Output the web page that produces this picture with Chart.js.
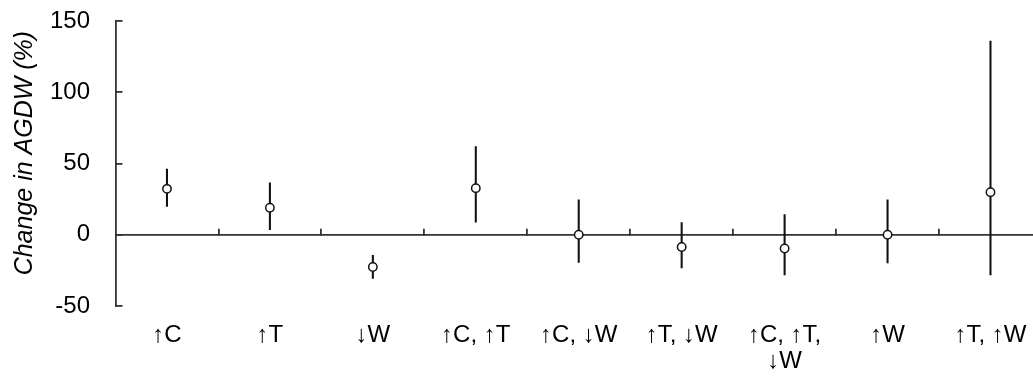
<!DOCTYPE html>
<html>
<head>
<meta charset="utf-8">
<script src="https://cdn.jsdelivr.net/npm/chart.js@4.4.1/dist/chart.umd.min.js"></script>
<style>
  html, body { margin: 0; padding: 0; background: #fff; overflow: hidden; }
  #wrap { width: 1033px; height: 378px; }
  canvas { display: block; }
</style>
</head>
<body>
<div id="wrap"><canvas id="c" width="1033" height="378"></canvas></div>
<script>
const categories = ['↑C', '↑T', '↓W', '↑C, ↑T', '↑C, ↓W', '↑T, ↓W', ['↑C, ↑T,', '↓W'], '↑W', '↑T, ↑W'];
const meanChange = [32.2, 18.9, -22.6, 32.7, 0, -8.6, -9.6, 0, 29.9];
const lowerBound = [19.8, 3.5, -30.6, 8.9, -19.4, -23.3, -28.2, -19.8, -28.2];
const upperBound = [46, 36.4, -14.5, 61.8, 24.5, 8.6, 14.2, 24.5, 135.9];
const yTicks = [-50, 0, 50, 100, 150];
const yTitle = '\u00a0\u00a0\u00a0Change in AGDW (%)';

const INK = '#111';
const AXIS = '#333';
const FONT = "'Liberation Sans', Arial, sans-serif";
const X_MAX = 8.913;

const pointData = meanChange.map((v, i) => ({ x: i + 0.5, y: v }));
const barData = meanChange.map((v, i) => ({ x: i + 0.5, y: [lowerBound[i], upperBound[i]] }));

new Chart(document.getElementById('c'), {
  type: 'bar',
  data: {
    datasets: [
      {
        type: 'line',
        data: pointData,
        showLine: false,
        pointRadius: 4.2,
        pointBackgroundColor: '#fff',
        pointBorderColor: INK,
        pointBorderWidth: 1.5,
        order: 0
      },
      {
        type: 'bar',
        data: barData,
        backgroundColor: INK,
        borderWidth: 0,
        barThickness: 1.4,
        grouped: false,
        order: 1
      }
    ]
  },
  options: {
    responsive: false,
    animation: false,
    events: [],
    layout: { autoPadding: false, padding: { top: 21, right: 0, bottom: 0, left: 0 } },
    plugins: { legend: { display: false }, tooltip: { enabled: false } },
    scales: {
      x: {
        type: 'linear',
        position: 'bottom',
        offset: false,
        min: 0,
        max: X_MAX,
        afterBuildTicks: s => { s.ticks = categories.map((_, i) => ({ value: i + 0.5 })); },
        afterFit: s => { s.paddingLeft = 0; s.paddingRight = 0; s.height = 72; },
        grid: { display: false, drawTicks: false, offset: false },
        border: { display: false },
        ticks: {
          color: '#000',
          font: { family: FONT, size: 24, lineHeight: 1.1 },
          padding: 16,
          maxRotation: 0,
          autoSkip: false,
          callback: v => categories[Math.round(v - 0.5)]
        }
      },
      xZero: {
        type: 'linear',
        axis: 'x',
        position: { y: 0 },
        offset: false,
        min: 0,
        max: X_MAX,
        afterBuildTicks: s => { s.ticks = [1, 2, 3, 4, 5, 6, 7, 8].map(v => ({ value: v })); },
        afterFit: s => { s.paddingLeft = 0; s.paddingRight = 0; },
        grid: { drawOnChartArea: false, drawTicks: true, tickLength: -7, color: AXIS, lineWidth: 1.8, offset: false },
        border: { display: true, color: AXIS, width: 1.8 },
        ticks: { display: false }
      },
      y: {
        type: 'linear',
        position: 'left',
        min: -50,
        max: 150,
        afterBuildTicks: s => { s.ticks = yTicks.map(v => ({ value: v })); },
        afterFit: s => { s.width = 115.5; s.paddingTop = 0; s.paddingBottom = 0; },
        grid: { drawOnChartArea: false, drawTicks: true, tickLength: -7, color: AXIS, lineWidth: 1.8 },
        border: { display: true, color: AXIS, width: 1.8 },
        ticks: {
          color: '#000',
          font: { family: FONT, size: 24 },
          padding: 32.5
        },
        title: {
          display: true,
          text: yTitle,
          color: '#000',
          font: { family: FONT, size: 25, style: 'italic' },
          padding: { top: 10, bottom: 0 }
        }
      }
    }
  }
});
</script>
</body>
</html>
